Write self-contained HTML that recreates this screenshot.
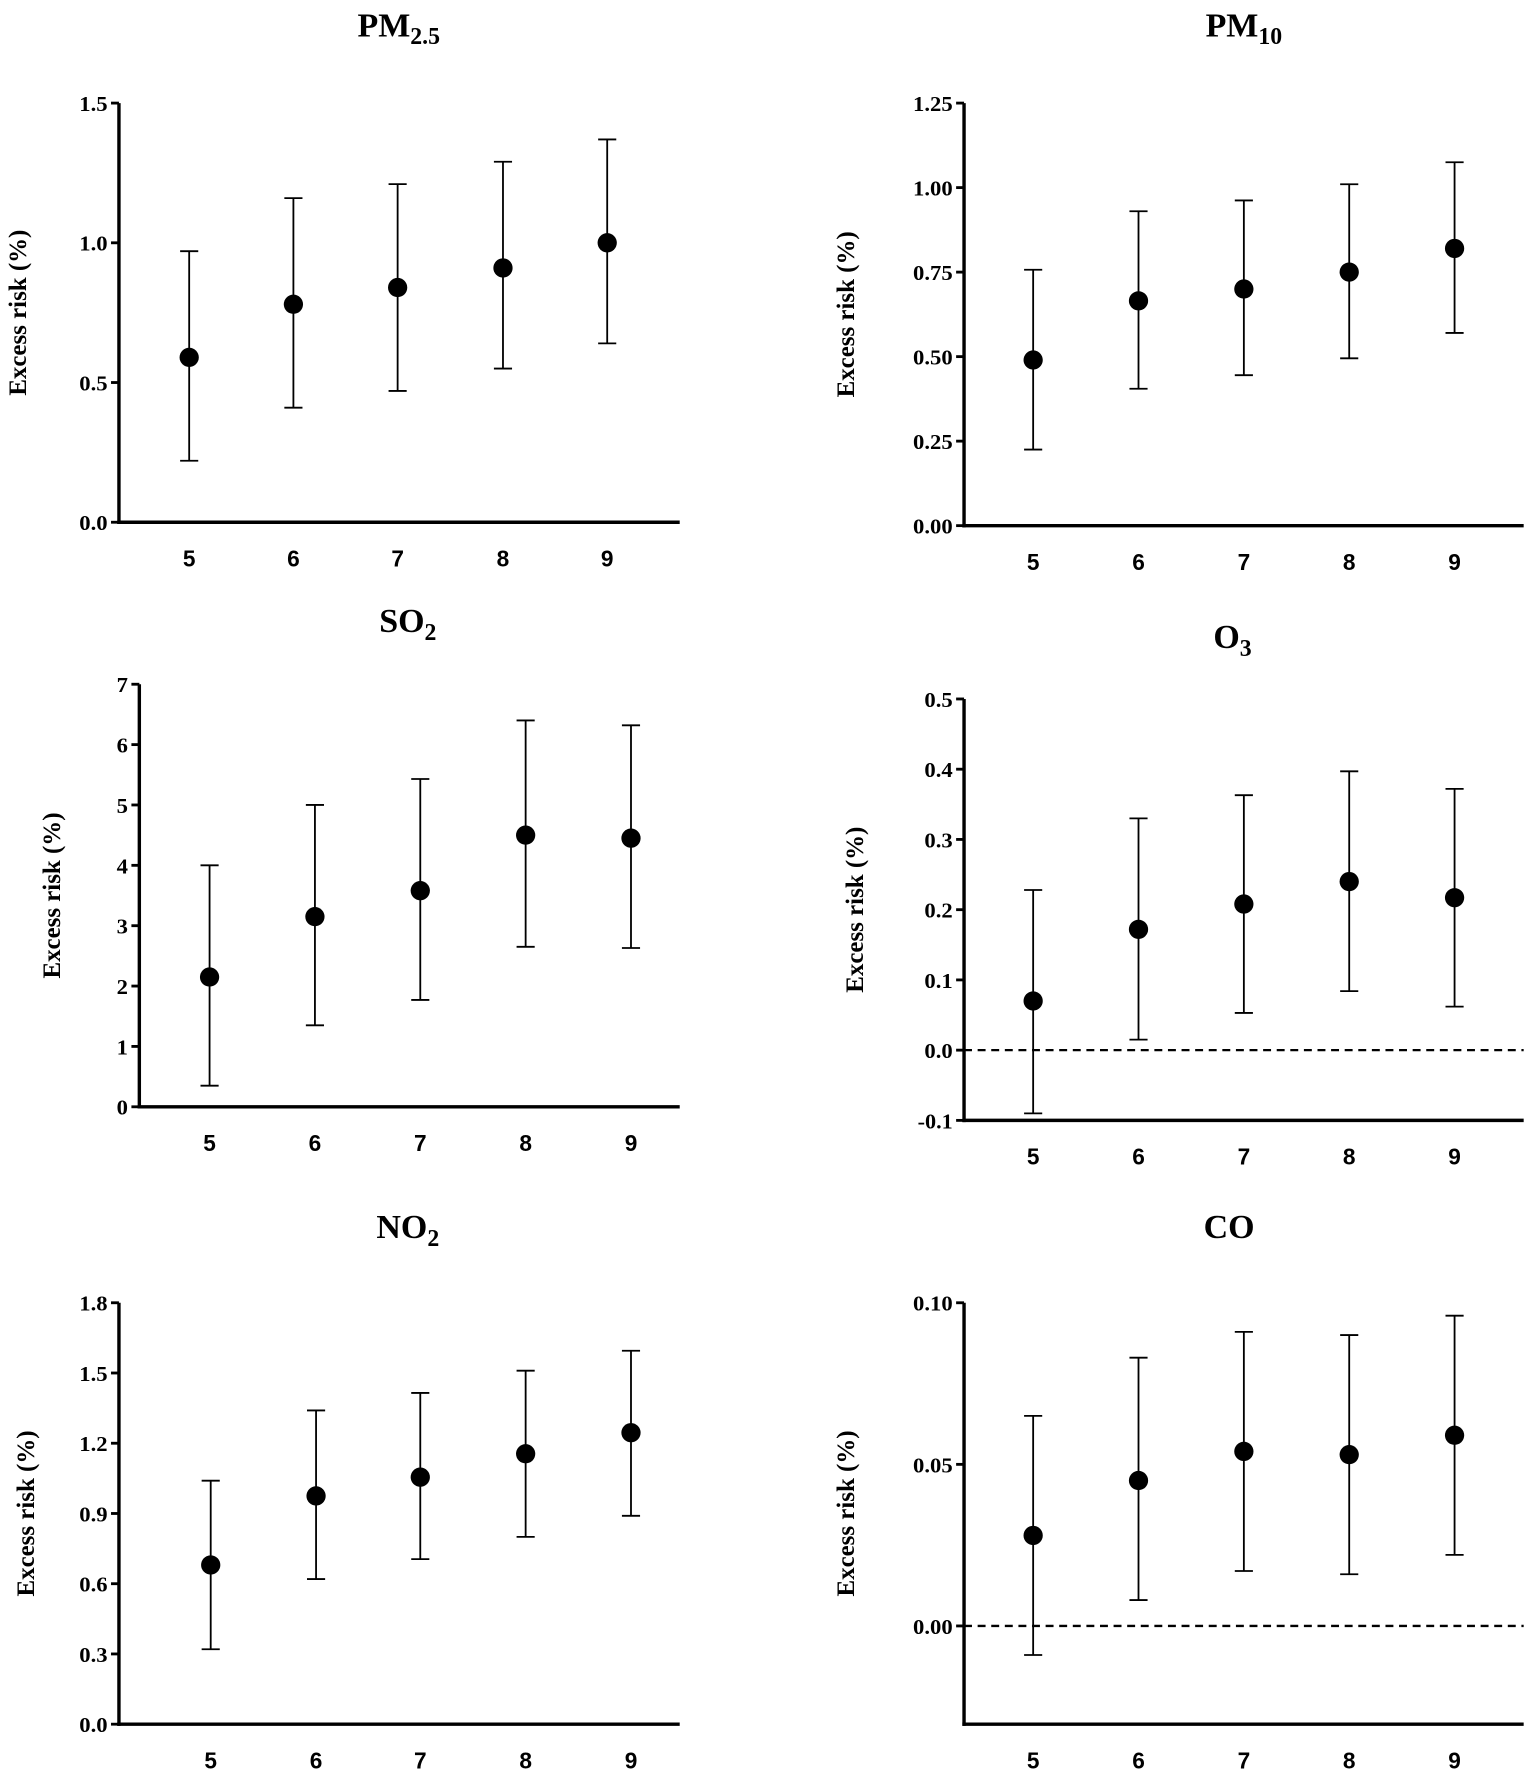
<!DOCTYPE html>
<html><head><meta charset="utf-8"><style>
html,body{margin:0;padding:0;background:#fff}
svg{display:block}
.t{font-family:"Liberation Serif",serif;font-weight:bold;font-size:30px}
.yt{font-family:"Liberation Serif",serif;font-weight:bold;font-size:19px}
.xt{font-family:"Liberation Sans",sans-serif;font-weight:bold;font-size:20px}
.yl{font-family:"Liberation Serif",serif;font-weight:bold;font-size:22px}
</style></head><body>
<svg id="s" width="1535" height="1778" viewBox="0 0 1355 1569.5" xmlns="http://www.w3.org/2000/svg"></svg>
<script>
const S=document.getElementById('s');let h='';
const P=[
{t:'PM',sub:'2.5',tx:352,ty:32,ax:105,xEnd:600,yTop:91,yBot:461,min:0,max:1.5,ticks:[0,0.5,1.0,1.5],fmt:1,xs:[167,259,351,444,536],lx:15,
 d:[[0.59,0.22,0.97],[0.78,0.41,1.16],[0.84,0.47,1.21],[0.91,0.55,1.29],[1.0,0.64,1.37]]},
{t:'PM',sub:'10',tx:1098,ty:32,ax:851,xEnd:1345,yTop:91,yBot:464,min:0,max:1.25,ticks:[0,0.25,0.5,0.75,1.0,1.25],fmt:2,xs:[912,1005,1098,1191,1284],lx:746,
 d:[[0.49,0.225,0.757],[0.665,0.405,0.93],[0.70,0.445,0.962],[0.75,0.495,1.01],[0.82,0.57,1.075]]},
{t:'SO',sub:'2',tx:360,ty:558,ax:123,xEnd:600,yTop:604,yBot:977,min:0,max:7,ticks:[0,1,2,3,4,5,6,7],fmt:0,xs:[185,278,371,464,557],lx:45,
 d:[[2.15,0.35,4.0],[3.15,1.35,5.0],[3.58,1.77,5.43],[4.5,2.65,6.4],[4.45,2.63,6.32]]},
{t:'O',sub:'3',tx:1088,ty:572,ax:851,xEnd:1345,yTop:617,yBot:989,min:-0.1,max:0.5,ticks:[-0.1,0,0.1,0.2,0.3,0.4,0.5],fmt:1,xs:[912,1005,1098,1191,1284],lx:754,dash:0,
 d:[[0.07,-0.09,0.228],[0.172,0.015,0.33],[0.208,0.053,0.363],[0.24,0.084,0.397],[0.217,0.062,0.372]]},
{t:'NO',sub:'2',tx:360,ty:1093,ax:105,xEnd:600,yTop:1150,yBot:1522,min:0,max:1.8,ticks:[0,0.3,0.6,0.9,1.2,1.5,1.8],fmt:1,xs:[186,279,371,464,557],lx:22,
 d:[[0.68,0.32,1.04],[0.975,0.62,1.34],[1.055,0.705,1.415],[1.155,0.8,1.51],[1.245,0.89,1.595]]},
{t:'CO',sub:'',tx:1085,ty:1093,ax:851,xEnd:1345,yTop:1150,yBot:1522,min:-0.0304,max:0.1,ticks:[0,0.05,0.1],fmt:2,xs:[912,1005,1098,1191,1284],lx:746,dash:0,
 d:[[0.028,-0.009,0.065],[0.045,0.008,0.083],[0.054,0.017,0.091],[0.053,0.016,0.09],[0.059,0.022,0.096]]}
];
for(const p of P){
 const Y=v=>p.yBot-(v-p.min)/(p.max-p.min)*(p.yBot-p.yTop);
 h+=`<text class="t" x="${p.tx}" y="${p.ty}" text-anchor="middle">${p.t}<tspan font-size="21" dy="7">${p.sub}</tspan></text>`;
 h+=`<line x1="${p.ax}" y1="${p.yTop}" x2="${p.ax}" y2="${p.yBot+1.5}" stroke="#000" stroke-width="3"/>`;
 h+=`<line x1="${p.ax-1.5}" y1="${p.yBot}" x2="${p.xEnd}" y2="${p.yBot}" stroke="#000" stroke-width="3"/>`;
 for(const t of p.ticks){const y=Y(t);
  h+=`<line x1="${p.ax-7}" y1="${y}" x2="${p.ax}" y2="${y}" stroke="#000" stroke-width="2.5"/>`;
  h+=`<text class="yt" x="${p.ax-10}" y="${y+7}" text-anchor="end" textLength="${p.fmt==2?35:p.fmt==1?(t<0?31:25):10}" lengthAdjust="spacingAndGlyphs">${t.toFixed(p.fmt)}</text>`;}
 if(p.dash!==undefined){const y=Y(0);h+=`<line x1="${p.ax}" y1="${y}" x2="${p.xEnd}" y2="${y}" stroke="#000" stroke-width="2" stroke-dasharray="7,5"/>`;}
 const labs=[5,6,7,8,9];
 p.xs.forEach((x,i)=>{const [m,l,u]=p.d[i];
  h+=`<text class="xt" x="${x}" y="${p.yBot+39}" text-anchor="middle">${labs[i]}</text>`;
  h+=`<line x1="${x}" y1="${Y(l)}" x2="${x}" y2="${Y(u)}" stroke="#000" stroke-width="1.6"/>`;
  h+=`<line x1="${x-8}" y1="${Y(l)}" x2="${x+8}" y2="${Y(l)}" stroke="#000" stroke-width="1.6"/>`;
  h+=`<line x1="${x-8}" y1="${Y(u)}" x2="${x+8}" y2="${Y(u)}" stroke="#000" stroke-width="1.6"/>`;
  h+=`<circle cx="${x}" cy="${Y(m)}" r="8.5" fill="#000"/>`;});
 const cy=(p.yTop+p.yBot)/2;
 h+=`<text class="yl" transform="translate(${p.lx+8},${cy}) rotate(-90)" text-anchor="middle">Excess risk (%)</text>`;
}
S.innerHTML=h;
</script>
</body></html>
